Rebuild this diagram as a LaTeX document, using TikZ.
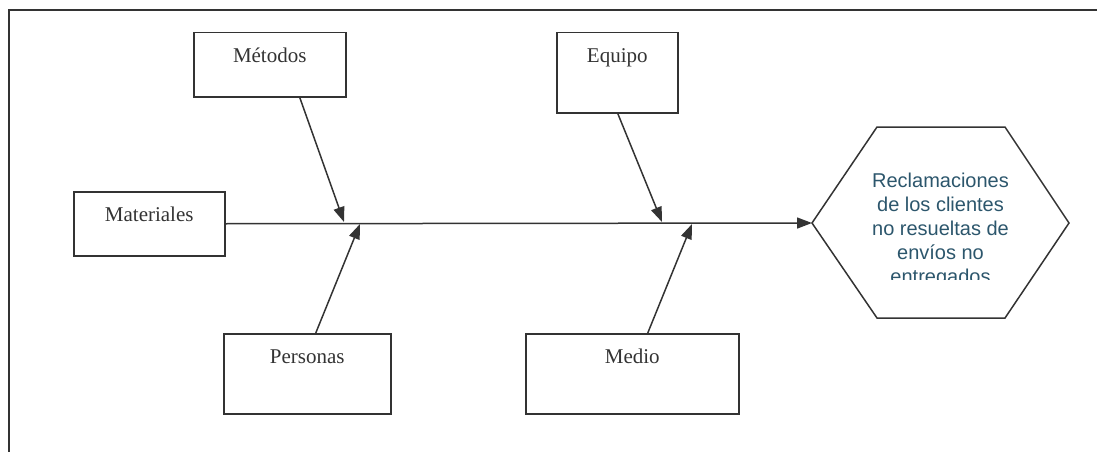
\documentclass[tikz,border=0pt]{standalone}
\usepackage{fontspec}
\setmainfont{Liberation Serif}
\newfontfamily\hexfont{Liberation Sans}
\usetikzlibrary{arrows.meta}
\definecolor{ink}{RGB}{51,51,51}
\definecolor{hextext}{RGB}{44,86,108}
\begin{document}
\begin{tikzpicture}[x=1pt,y=-1pt,
  cause/.style={draw=ink, line width=1.5pt, inner sep=0pt, anchor=north west,
    font=\fontsize{21}{25}\selectfont, text=ink, text height=30pt},
  bone/.style={draw=ink, line width=1.5pt, -{Triangle[length=15pt,width=11pt]}},
  outline/.style={draw=ink, line width=1.5pt},
  frame/.style={draw=ink, line width=2.2pt},
]
\useasboundingbox (0,0) rectangle (1097,452);
\draw[frame] (9,452) -- (9,10) -- (1097,10);

\node[cause, minimum width=152pt, text depth=34pt] (met) at (193,32) {Métodos};
\node[cause, minimum width=151pt, text depth=34pt] (mat) at (73,191) {Materiales};
\node[cause, minimum width=167pt, text depth=50pt] (per) at (223,333) {Personas};
\node[cause, minimum width=121pt, text depth=50pt] (equ) at (556,32) {Equipo};
\node[cause, minimum width=213pt, text depth=50pt] (med) at (525,333) {Medio};

\coordinate (hexL) at (812,223);
\coordinate (j1) at (344,222);
\coordinate (j2) at (360,224);
\coordinate (j3) at (662,222);
\coordinate (j4) at (692,224);

\draw[outline] (hexL) -- (877,127) -- (1005,127) -- (1069,223) -- (1005,318) -- (877,318) -- cycle;
\begin{scope}
  \clip (850,150) rectangle (1030,279);
  \node[text=hextext, font=\hexfont\fontsize{20}{24}\selectfont, align=center, inner sep=0pt]
    (eff) at (940.5,230) {Reclamaciones\\de los clientes\\no resueltas de\\envíos no\\entregados};
\end{scope}

\draw[bone] (mat.east) -- (hexL);
\draw[bone] ([xshift=30pt]met.south) -- (j1);
\draw[bone] ([xshift=8.5pt]per.north) -- (j2);
\draw[bone] ([xshift=0.5pt]equ.south) -- (j3);
\draw[bone] ([xshift=15.5pt]med.north) -- (j4);
\end{tikzpicture}
\end{document}
